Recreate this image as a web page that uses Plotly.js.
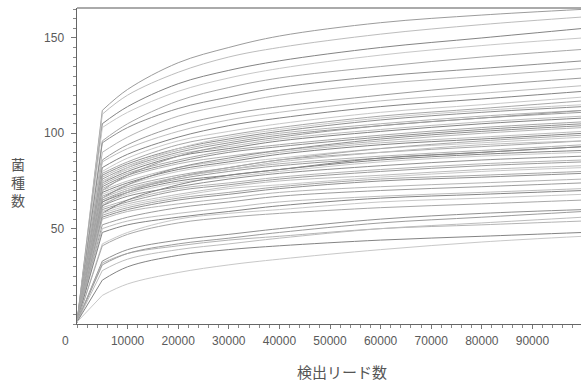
<!DOCTYPE html>
<html>
<head>
<meta charset="utf-8">
<script src="https://cdn.plot.ly/plotly-3.0.1.min.js"></script>
<style>html,body{margin:0;padding:0;background:#fff;}#chart{width:581px;height:383px;}</style>
</head>
<body>
<div id="chart"></div>
<script>
// Read counts (x) at which species counts were sampled
const readCounts = [0, 5000, 10000, 20000, 30000, 40000, 60000, 80000, 100000];

// Species counts per sample, upper group
const highGroup = [
  [1,112,123,137,145,151,158,162,165],
  [1,110,120,132,140,145,152,157,161],
  [1,105,114,126,133,138,145,150,155],
  [1,103,111,122,129,134,141,146,150],
  [1,96,105,117,124,129,135,140,144],
  [1,95,103,113,119,124,130,134,138],
  [1,90,98,109,115,120,126,130,134],
  [1,86,94,104,110,114,120,125,129],
  [1,85,92,101,107,111,117,121,125]
];

// Species counts per sample, middle group
const midGroup = [
  [1,82,89,98,104,108,114,118,122],
  [1,80,87,96,101,105,111,115,119],
  [1,79,85,94,99,103,109,113,117],
  [1,78,84,92,97,101,107,111,114],
  [1,77,83,91,96,100,105,109,112],
  [1,76,82,90,95,99,104,108,111],
  [1,75,81,89,93,97,102,106,109],
  [1,74,80,88,92,96,101,105,108],
  [1,74,82,92,98,102,108,112,115],
  [1,73,79,86,91,94,99,103,106],
  [1,72,78,85,90,93,98,102,105],
  [1,71,77,84,88,91,96,100,103],
  [1,70,78,88,94,98,104,108,112],
  [1,70,75,82,86,90,95,98,101],
  [1,69,74,81,85,89,94,97,100],
  [1,68,73,80,84,87,92,95,98],
  [1,67,72,78,82,86,90,93,96],
  [1,66,73,82,87,91,97,101,104],
  [1,66,71,77,81,84,88,91,94],
  [1,65,70,76,80,83,87,90,93],
  [1,64,70,77,81,85,90,94,96],
  [1,64,69,75,78,81,86,89,91],
  [1,63,68,74,77,80,85,88,90],
  [1,62,69,77,82,86,92,96,99],
  [1,62,67,72,76,79,83,86,88],
  [1,61,65,71,74,77,81,84,86],
  [1,60,64,70,73,76,80,83,85],
  [1,59,63,68,72,75,78,81,83],
  [1,58,65,73,78,81,87,90,93],
  [1,58,62,67,71,73,77,80,82],
  [1,57,61,66,69,72,76,78,80],
  [1,56,60,65,68,71,75,77,79],
  [1,55,59,63,66,69,72,74,76],
  [1,52,56,61,64,67,70,72,74],
  [1,50,54,58,61,64,67,69,71],
  [1,48,52,56,59,62,66,68,70]
];

// Species counts per sample, lower group
const lowGroup = [
  [1,42,48,55,58,60,64,66,68],
  [1,41,47,53,56,58,61,63,65],
  [1,33,39,44,47,50,55,58,60],
  [1,32,37,41,44,46,50,52,54],
  [1,31,37,42,45,48,53,56,59],
  [1,28,34,39,42,45,50,53,56],
  [1,23,30,36,39,41,44,46,48],
  [1,15,21,27,31,34,39,43,46]
];

const yTickVals = [50, 100, 150];
const xTickVals = [10000, 20000, 30000, 40000, 50000, 60000, 70000, 80000, 90000];

const lineGrays = ['#9c9c9c', '#bdbdbd', '#848484', '#c8c8c8', '#a8a8a8', '#909090', '#b4b4b4'];

const allSeries = highGroup.concat(midGroup, lowGroup);
const traces = [];
allSeries.forEach((ys, i) => {
  const col = lineGrays[i % lineGrays.length];
  // steep initial rise (straight)
  traces.push({
    type: 'scatter', mode: 'lines',
    x: readCounts.slice(0, 2), y: ys.slice(0, 2),
    line: {color: col, width: 1},
    hoverinfo: 'skip', showlegend: false
  });
  // saturating part (smoothed)
  traces.push({
    type: 'scatter', mode: 'lines',
    x: readCounts.slice(1), y: ys.slice(1),
    line: {color: col, width: 1, shape: 'spline', smoothing: 1},
    hoverinfo: 'skip', showlegend: false
  });
});

const tickFont = {family: 'Liberation Sans, Arial, sans-serif', size: 12, color: '#5a5a5a'};

const layout = {
  width: 581,
  height: 383,
  margin: {l: 77, r: 0, t: 8, b: 59},
  paper_bgcolor: '#fff',
  plot_bgcolor: '#fff',
  showlegend: false,
  xaxis: {
    range: [0, 99600],
    tickvals: xTickVals,
    ticktext: xTickVals.map(String),
    ticks: 'outside',
    ticklen: 4,
    tickcolor: '#777',
    tickfont: tickFont,
    ticklabelstandoff: 2,
    minor: {dtick: 2000, ticks: 'outside', ticklen: 3, tickcolor: '#888', showgrid: false},
    showgrid: false,
    zeroline: false,
    showline: true,
    linecolor: '#666',
    linewidth: 1
  },
  yaxis: {
    range: [0, 165.7],
    tickvals: yTickVals,
    ticktext: yTickVals.map(String),
    ticks: 'outside',
    ticklen: 5,
    tickcolor: '#777',
    tickfont: tickFont,
    ticklabelstandoff: 4,
    minor: {dtick: 5, tick0: 0, ticks: 'outside', ticklen: 3, tickcolor: '#888', showgrid: false},
    showgrid: false,
    zeroline: false,
    showline: true,
    linecolor: '#666',
    linewidth: 1.5
  },
  shapes: [
    {type: 'line', xref: 'paper', yref: 'paper', x0: 0, x1: 1, y0: 1, y1: 1,
     line: {color: '#aaa', width: 2}}
  ],
  annotations: [
    {text: '0', xref: 'x', yref: 'y', x: 0, y: 0, xshift: -12, yshift: -17,
     showarrow: false, font: tickFont},
    {text: '菌<br>種<br>数', xref: 'paper', yref: 'paper', x: -0.117, y: 0.45,
     xanchor: 'center', yanchor: 'middle', showarrow: false,
     font: {family: 'Noto Sans CJK JP', size: 14, color: '#555'}},
    {text: '検出リード数', xref: 'paper', yref: 'paper', x: 0.525, y: -0.15,
     xanchor: 'center', yanchor: 'middle', showarrow: false,
     font: {family: 'Noto Sans CJK JP', size: 15, color: '#555'}}
  ]
};

Plotly.newPlot('chart', traces, layout, {displayModeBar: false, staticPlot: true});
</script>
</body>
</html>
